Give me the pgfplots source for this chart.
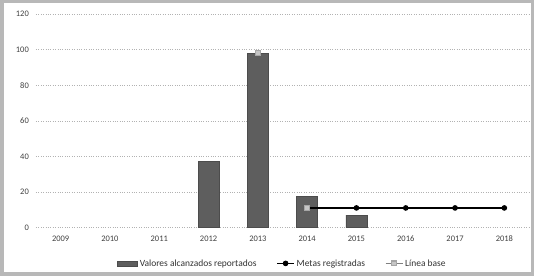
\documentclass[border=0pt]{standalone}
\usepackage{pgfplots}
\pgfplotsset{compat=1.18}
\usepackage{fontspec}
\setmainfont{Carlito}
\definecolor{bargray}{HTML}{5E5E5E}
\definecolor{frame}{HTML}{B8B8B8}
\begin{document}
\fontsize{9}{10}\selectfont
\begin{tikzpicture}
\fill[frame] (0,0) rectangle (534bp,276bp);
\fill[white] (4bp,4bp) rectangle (531bp,273bp);
\begin{axis}[
  at={(36bp,48.5bp)}, anchor=south west,
  scale only axis, width=493bp, height=213.5bp,
  xmin=-0.5, xmax=9.5, ymin=0, ymax=120,
  xtick={0,...,9},
  xticklabels={2009,2010,2011,2012,2013,2014,2015,2016,2017,2018},
  ytick={0,20,...,120},
  ymajorgrids, grid style={dotted, gray!60},
  axis line style={draw=none},
  major tick length=0pt,
  tick label style={font=\fontsize{8.5}{9}\selectfont, text=black!75},
  /pgf/number format/assume math mode=true,
  yticklabel style={xshift=-4bp},
  xticklabel style={yshift=-5bp},
  legend style={at={(0.5,-0.13)}, anchor=north, draw=none, legend columns=-1,
    font=\fontsize{9.5}{10}\selectfont, text=black!80,
    /tikz/every even column/.append style={column sep=18bp}},
  legend cell align=left,
  clip=false,
]
\addplot[ybar, bar width=21bp, fill=bargray, draw=black!70,
  legend image code/.code={\fill[bargray,draw=black!70] (0bp,-2.5bp) rectangle (20bp,2.5bp);}] coordinates {
  (3,37) (4,98) (5,17.7) (6,7)
};
\addlegendentry{Valores alcanzados reportados}
\addplot[black, line width=1.2pt, mark=*, mark size=2.2pt] coordinates {
  (5,11) (6,11) (7,11) (8,11) (9,11)
};
\addlegendentry{Metas registradas}
\addplot[gray, line width=1.2pt, mark=square*, mark size=2.5pt, mark options={fill=gray!45, draw=gray!70}] coordinates {(4,98)};
\addlegendentry{Línea base}
\addplot[gray, line width=1.2pt, mark=square*, mark size=2.5pt, mark options={fill=gray!45, draw=gray!70}, forget plot] coordinates {(5,11)};
\end{axis}
\end{tikzpicture}
\end{document}
